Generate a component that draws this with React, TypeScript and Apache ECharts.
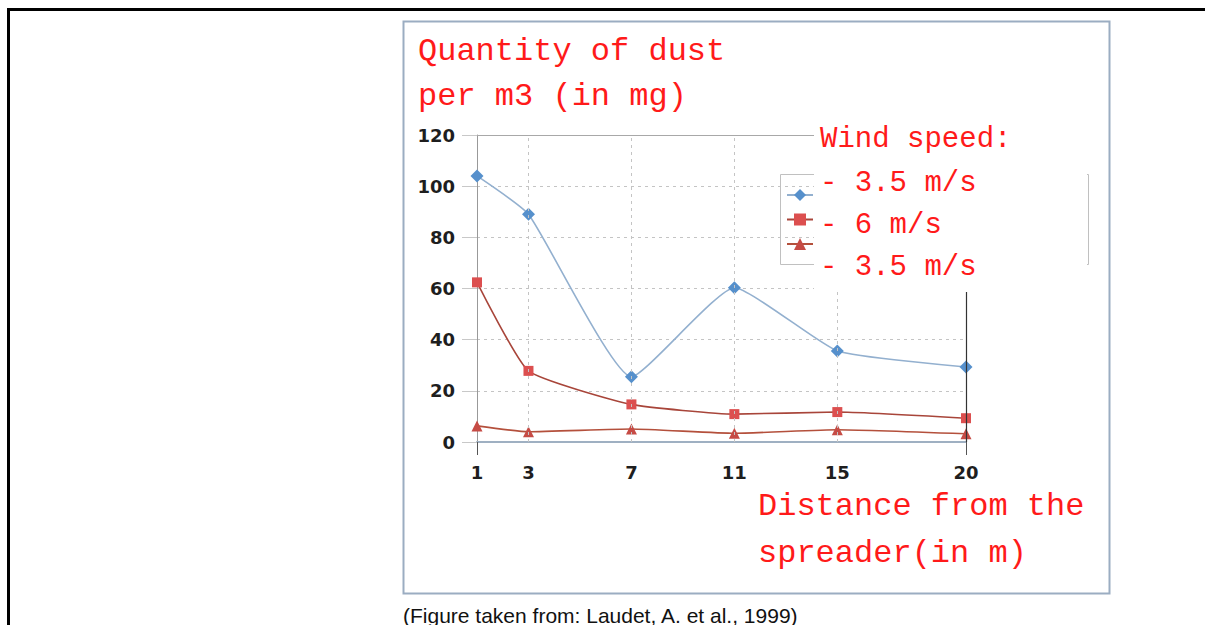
import React, { useEffect, useRef } from "react";
import * as echarts from "echarts";

// Distance from the spreader (m)
const distances = [1, 3, 7, 11, 15, 20];
// Quantity of dust per m3 (mg)
const seriesNames = ["- 3.5 m/s", "- 6 m/s", "- 3.5 m/s "];
const wind35 = [104, 89, 25.5, 60.3, 35.6, 29.3];
const wind6 = [62.4, 27.8, 14.7, 10.9, 11.7, 9.3];
const wind35b = [6.3, 4, 5.1, 3.4, 4.8, 3.2];

const titleLines = ["Quantity of dust", "per m3 (in mg)"];
const legendTitle = "Wind speed:";
const xTitleLines = ["Distance from the", "spreader(in m)"];
const caption = "(Figure taken from: Laudet, A. et al., 1999)";

const mono = "'Liberation Mono', 'Courier New', monospace";
const RED = "#ff1a1a";
const tickFont = "'DejaVu Sans', 'Liberation Sans', Arial, sans-serif";

export default function App() {
  const ref = useRef<HTMLDivElement>(null);
  useEffect(() => {
    document.body.style.margin = "0";
    const chart = echarts.init(ref.current!, null, { renderer: "svg" });
    const pair = (ys: number[]) => distances.map((x, i) => [x, ys[i]]);
    const redText = (text: string, x: number, yMid: number, size: number) => ({
      type: "text",
      x,
      y: yMid,
      z: 120,
      style: { text, fill: RED, font: `${size}px ${mono}`, verticalAlign: "middle", align: "left" },
    });
    const option: any = {
      animation: false,
      backgroundColor: "#ffffff",
      grid: { left: 477, right: 239, top: 135, bottom: 183, containLabel: false },
      xAxis: {
        type: "value",
        min: 1,
        max: 20,
        axisLine: { show: true, lineStyle: { color: "#9fb0c2", width: 2 } },
        axisTick: { show: true, customValues: [1, 20], length: 13, lineStyle: { color: "#555", width: 1 } },
        axisLabel: {
          customValues: distances,
          color: "#1e1e1e",
          fontWeight: "bold",
          fontFamily: tickFont,
          fontSize: 18,
          margin: 21,
        },
        splitLine: { show: false },
      },
      yAxis: {
        type: "value",
        min: 0,
        max: 120,
        interval: 20,
        axisLine: { show: true, lineStyle: { color: "#999", width: 1 } },
        axisTick: { show: true, length: 15, lineStyle: { color: "#c8c8c8", width: 1 } },
        axisLabel: {
          color: "#1e1e1e",
          fontWeight: "bold",
          fontFamily: tickFont,
          fontSize: 18,
          margin: 22,
        },
        splitLine: { show: true, lineStyle: { color: "#c4c4c4", type: [3, 4], width: 1 } },
      },
      legend: {
        orient: "vertical",
        left: 786,
        top: 189,
        padding: 0,
        itemWidth: 26,
        itemHeight: 15,
        itemGap: 12.5,
        z: 110,
        selectedMode: false,
        formatter: () => " ",
        textStyle: { fontSize: 1 },
        data: seriesNames,
      },
      series: [
        {
          name: seriesNames[0],
          type: "line",
          data: pair(wind35),
          smooth: 0.15,
          clip: false,
          symbol: "diamond",
          symbolSize: 13,
          itemStyle: { color: "#5690cc" },
          lineStyle: { color: "#93b0cf", width: 1.6 },
          z: 4,
          markLine: {
            silent: true,
            symbol: ["none", "none"],
            label: { show: false },
            data: [
              { xAxis: 3, lineStyle: { color: "#c4c4c4", type: [3, 4], width: 1 } },
              { xAxis: 7, lineStyle: { color: "#c4c4c4", type: [3, 4], width: 1 } },
              { xAxis: 11, lineStyle: { color: "#c4c4c4", type: [3, 4], width: 1 } },
              { xAxis: 15, lineStyle: { color: "#c4c4c4", type: [3, 4], width: 1 } },
              { xAxis: 20, lineStyle: { color: "#333", type: "solid", width: 1.2 } },
              { yAxis: 120, lineStyle: { color: "#a8a8a8", type: "solid", width: 1.2 } },
            ],
          },
        },
        {
          name: seriesNames[1],
          type: "line",
          data: pair(wind6),
          smooth: 0.15,
          clip: false,
          symbol: "rect",
          symbolSize: 10,
          itemStyle: { color: "#dc4f4f" },
          lineStyle: { color: "#a8453a", width: 1.6 },
          z: 3,
        },
        {
          name: seriesNames[2],
          type: "line",
          data: pair(wind35b),
          smooth: 0.15,
          clip: false,
          symbol: "triangle",
          symbolSize: 11,
          itemStyle: { color: "#c64b45" },
          lineStyle: { color: "#b4503c", width: 1.6 },
          z: 3,
        },
      ],
      graphic: [
        // outer frame
        { type: "rect", z: 50, shape: { x: 7, y: 8, width: 1198, height: 3 }, style: { fill: "#000" } },
        { type: "rect", z: 50, shape: { x: 7, y: 8, width: 3, height: 617 }, style: { fill: "#000" } },
        // figure border
        {
          type: "rect",
          z: 50,
          shape: { x: 403.5, y: 21.5, width: 706, height: 572 },
          style: { fill: "none", stroke: "#9badc2", lineWidth: 2 },
        },
        // legend frame
        {
          type: "rect",
          z: 90,
          shape: { x: 780.5, y: 174.5, width: 308, height: 90 },
          style: { fill: "none", stroke: "#c0c0c0", lineWidth: 1 },
        },
        // white patch under the pasted text
        {
          type: "rect",
          z: 95,
          shape: { x: 814, y: 118, width: 273, height: 174 },
          style: { fill: "#fff" },
        },
        redText(titleLines[0], 418, 51, 32),
        redText(titleLines[1], 418, 96, 32),
        redText(legendTitle, 820, 139, 29),
        redText(seriesNames[0], 820, 183, 29),
        redText(seriesNames[1], 820, 225, 29),
        redText(seriesNames[2].trim(), 820, 267, 29),
        redText(xTitleLines[0], 758, 506, 32),
        redText(xTitleLines[1], 758, 553, 32),
        {
          type: "text",
          x: 403,
          y: 615,
          z: 120,
          style: {
            text: caption,
            fill: "#111",
            font: "21px 'Liberation Sans', Arial, sans-serif",
            verticalAlign: "middle",
            align: "left",
          },
        },
      ],
    };
    chart.setOption(option);
    return () => chart.dispose();
  }, []);
  return <div ref={ref} style={{ width: 1205, height: 625 }} />;
}
